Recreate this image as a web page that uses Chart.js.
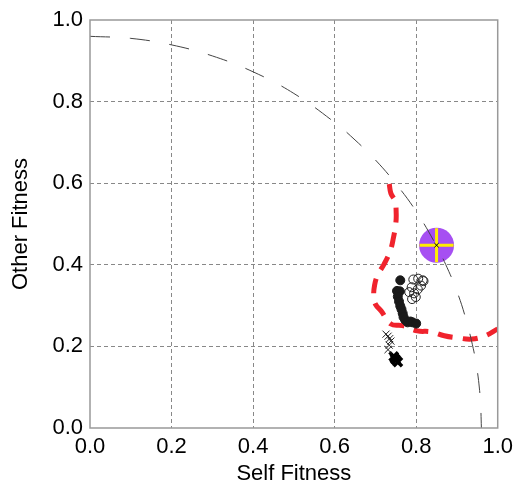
<!DOCTYPE html>
<html>
<head>
<meta charset="utf-8">
<script src="https://cdn.jsdelivr.net/npm/chart.js@4"></script>
<style>
  html, body { margin: 0; padding: 0; background: #fff; overflow: hidden; }
  canvas { display: block; }
</style>
</head>
<body>
<canvas id="chart" width="521" height="485"></canvas>
<script>
// Pareto-like front (thin dashed arc)
const arcX = [0.00, 0.10, 0.20, 0.30, 0.40, 0.50, 0.60, 0.65, 0.70, 0.75, 0.80, 0.85, 0.88, 0.90, 0.92, 0.94, 0.95, 0.955, 0.958, 0.96];
const arcY = [0.96, 0.955, 0.939, 0.912, 0.873, 0.820, 0.749, 0.706, 0.657, 0.599, 0.531, 0.446, 0.384, 0.335, 0.274, 0.195, 0.139, 0.098, 0.060, 0.00];

// thick red dashed trajectory
const redX = [0.734, 0.738, 0.748, 0.751, 0.750, 0.744, 0.736, 0.721, 0.706, 0.698, 0.696, 0.701, 0.714, 0.738, 0.767, 0.803, 0.835, 0.869, 0.900, 0.937, 0.969, 1.000];
const redY = [0.598, 0.575, 0.557, 0.526, 0.501, 0.465, 0.433, 0.401, 0.376, 0.350, 0.321, 0.302, 0.287, 0.255, 0.251, 0.238, 0.236, 0.226, 0.221, 0.218, 0.226, 0.243];

// filled black circles
const filledX = [0.761, 0.753, 0.760, 0.755, 0.758, 0.761, 0.764, 0.767, 0.769, 0.773, 0.779, 0.786, 0.791, 0.800];
const filledY = [0.362, 0.336, 0.335, 0.322, 0.310, 0.299, 0.291, 0.281, 0.272, 0.265, 0.259, 0.261, 0.259, 0.256];

// open circles
const openX = [0.793, 0.805, 0.816, 0.818, 0.812, 0.789, 0.783, 0.795, 0.799, 0.790, 0.804];
const openY = [0.364, 0.366, 0.362, 0.360, 0.349, 0.345, 0.333, 0.330, 0.321, 0.316, 0.340];

// thin crosses
const thinX = [0.726, 0.731, 0.735, 0.738, 0.734, 0.731];
const thinY = [0.230, 0.225, 0.219, 0.213, 0.203, 0.192];

// bold crosses
const boldX = [0.745, 0.750, 0.755, 0.748];
const boldY = [0.175, 0.167, 0.162, 0.170];

// target marker
const targetX = [0.850];
const targetY = [0.448];

const ticks = [0.0, 0.2, 0.4, 0.6, 0.8, 1.0];

const pts = (xs, ys) => xs.map((x, i) => ({ x, y: ys[i] }));

const FONT = { family: '"Liberation Sans", Arial, Helvetica, sans-serif', size: 22, lineHeight: 1 };

// full grey frame round the plot
const framePlugin = {
  id: 'frame',
  afterDraw(chart) {
    const { ctx, chartArea: a } = chart;
    ctx.save();
    ctx.strokeStyle = '#999';
    ctx.lineWidth = 1.5;
    ctx.strokeRect(a.left, a.top, a.right - a.left, a.bottom - a.top);
    ctx.restore();
  },
};

const gridColor = c => (c.tick.value === 0 || c.tick.value === 1) ? 'rgba(0,0,0,0)' : '#888';

new Chart(document.getElementById('chart'), {
  type: 'scatter',
  data: {
    datasets: [
      {
        data: pts(arcX, arcY), showLine: true, borderColor: '#444', borderWidth: 1,
        borderDash: [20, 20], pointRadius: 0, tension: 0.4, order: 0,
      },
      {
        data: pts(targetX, targetY), pointStyle: 'crossRot', pointRadius: 3,
        borderColor: '#000', borderWidth: 1, backgroundColor: '#ff0', order: 1,
      },
      {
        data: pts(targetX, targetY), pointStyle: 'cross', pointRadius: 17,
        borderColor: '#ffee00', borderWidth: 3, order: 2,
      },
      {
        data: pts(targetX, targetY), pointStyle: 'circle', pointRadius: 17.5,
        backgroundColor: '#a64ff2', borderColor: '#a64ff2', borderWidth: 0, order: 3,
      },
      {
        data: pts(filledX, filledY), pointStyle: 'circle', pointRadius: 4.5,
        backgroundColor: '#1a1a1a', borderColor: '#1a1a1a', borderWidth: 1, order: 4,
      },
      {
        data: pts(openX, openY), pointStyle: 'circle', pointRadius: 4.5,
        backgroundColor: 'rgba(0,0,0,0)', borderColor: '#222', borderWidth: 1, order: 5,
      },
      {
        data: pts(thinX, thinY), pointStyle: 'crossRot', pointRadius: 5,
        borderColor: '#222', borderWidth: 1, order: 6,
      },
      {
        data: pts(boldX, boldY), pointStyle: 'crossRot', pointRadius: 6,
        borderColor: '#000', borderWidth: 3.5, order: 7,
      },
      {
        data: pts(redX, redY), showLine: true, borderColor: '#f0232d', borderWidth: 5,
        borderDash: [15, 10], borderCapStyle: 'butt', pointRadius: 0, tension: 0.4, order: 8,
      },
    ],
  },
  options: {
    responsive: false,
    animation: false,
    events: [],
    layout: { padding: { top: 17, right: 20, left: 0, bottom: 0 } },
    plugins: { legend: { display: false }, tooltip: { enabled: false } },
    scales: {
      x: {
        type: 'linear', min: 0, max: 1,
        afterBuildTicks: s => { s.ticks = ticks.map(v => ({ value: v })); },
        afterFit: s => { s.height = 57; },
        ticks: { color: '#000', font: FONT, padding: 8, maxRotation: 0, callback: v => v.toFixed(1) },
        grid: { color: gridColor, lineWidth: 1, drawTicks: false, tickLength: 0 },
        border: { display: false, dash: [4, 3] },
        title: { display: true, text: 'Self Fitness', color: '#000', font: FONT, padding: { top: 0, bottom: 0 } },
      },
      y: {
        type: 'linear', min: 0, max: 1,
        afterBuildTicks: s => { s.ticks = ticks.map(v => ({ value: v })); },
        afterFit: s => { s.width = 90; },
        ticks: { color: '#000', font: FONT, padding: 7, callback: v => v.toFixed(1) },
        grid: { color: gridColor, lineWidth: 1, drawTicks: false, tickLength: 0 },
        border: { display: false, dash: [4, 3] },
        title: { display: true, text: 'Other Fitness', color: '#000', font: FONT, padding: { top: 10, bottom: 0 } },
      },
    },
  },
  plugins: [framePlugin],
});
</script>
</body>
</html>
